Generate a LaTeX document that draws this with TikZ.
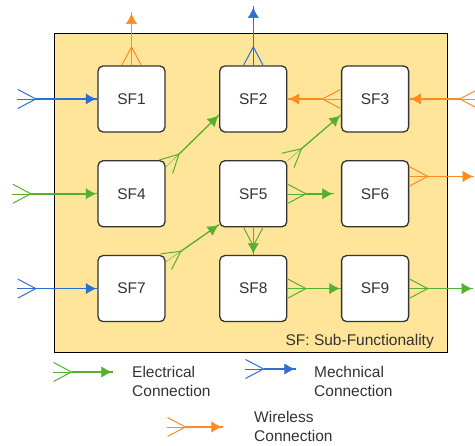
\documentclass[tikz,border=0pt]{standalone}
\usepackage{fontspec}
\setmainfont{Liberation Sans}
\usetikzlibrary{positioning,arrows.meta}
\definecolor{Elec}{HTML}{55B02D}
\definecolor{Mech}{HTML}{2D6ED2}
\definecolor{Wire}{HTML}{FF8A1F}
\definecolor{Frame}{HTML}{FFE599}
\definecolor{Txt}{HTML}{333333}

\begin{document}
\begin{tikzpicture}[
    x=1pt, y=1pt,
    node distance=27.5pt and 53.5pt,
    font=\fontsize{15.5}{19}\selectfont,
    sfbox/.style={draw=Txt, fill=white, line width=1.3pt, rounded corners=5pt, minimum width=67pt, minimum height=66pt, inner sep=0pt, text=Txt},
    link/.style={line width=1.3pt, draw=#1, preaction={draw=#1, -{Latex[length=12pt, width=13pt]}}, {Straight Barb[reversed, length=18pt, width=19pt, line width=1pt]}-},
    elec/.style={link=Elec},
    mech/.style={link=Mech},
    wire/.style={link=Wire},
    lgd/.style={align=left, anchor=west, inner sep=0pt, text=Txt}
  ]
  \useasboundingbox (0,0) rectangle (475,446);
  \draw[fill=Frame, line width=1pt] (54,93) rectangle (447,412);

  % sub-functionality grid
  \node[sfbox] (SF1) at (131.5,347) {SF1};
  \node[sfbox, right=of SF1] (SF2) {SF2};
  \node[sfbox, right=of SF2] (SF3) {SF3};
  \node[sfbox, below=of SF1] (SF4) {SF4};
  \node[sfbox, right=of SF4] (SF5) {SF5};
  \node[sfbox, right=of SF5] (SF6) {SF6};
  \node[sfbox, below=of SF4] (SF7) {SF7};
  \node[sfbox, right=of SF7] (SF8) {SF8};
  \node[sfbox, right=of SF8] (SF9) {SF9};
  \node[anchor=base east, inner sep=0pt, text=Txt] (note) at (434,100) {SF: Sub-Functionality};

  % free ends
  \coordinate[left=80pt of SF1.west] (in1);
  \coordinate[left=85pt of SF4.west] (in4);
  \coordinate[left=80pt of SF7.west] (in7);
  \coordinate[right=69pt of SF3.east] (in3);
  \coordinate[above=53pt of SF1.north] (out1);
  \coordinate[above=59pt of SF2.north] (out2);
  \coordinate[right=65pt of SF6.27] (out6);
  \coordinate[right=64pt of SF9.east] (out9);

  \draw[mech] (in1) -- (SF1);
  \draw[elec] (in4) -- (SF4);
  \draw[mech] (in7) -- (SF7);
  \draw[wire] (in3) -- (SF3);
  \draw[wire] (SF1) -- (out1);
  \draw[mech] (SF2) -- (out2);
  \draw[wire] (SF3) -- (SF2);
  \draw[elec] (SF4.38) -- (SF2.205);
  \draw[elec] (SF5.44) -- (SF3.205);
  \draw[elec] (SF7.38) -- (SF5.222);
  \draw[elec, shorten >=7pt] (SF5) -- (SF6);
  \draw[elec] (SF5) -- (SF8);
  \draw[elec] (SF8) -- (SF9);
  \draw[wire] (SF6.27) -- (out6);
  \draw[elec] (SF9) -- (out9);

  % legend
  \coordinate (eA) at (53,74);
  \coordinate (eB) at (113,74);
  \coordinate (mA) at (245,77);
  \coordinate (mB) at (296,77);
  \coordinate (wA) at (167,19);
  \coordinate (wB) at (223,19);
  \draw[elec] (eA) -- (eB);
  \draw[mech] (mA) -- (mB);
  \draw[wire] (wA) -- (wB);
  \node[lgd] (eTxt) at (132,64.5) {Electrical\\Connection};
  \node[lgd] (mTxt) at (314,64.5) {Mechnical\\Connection};
  \node[lgd] (wTxt) at (254,19.5) {Wireless\\Connection};
\end{tikzpicture}
\end{document}
